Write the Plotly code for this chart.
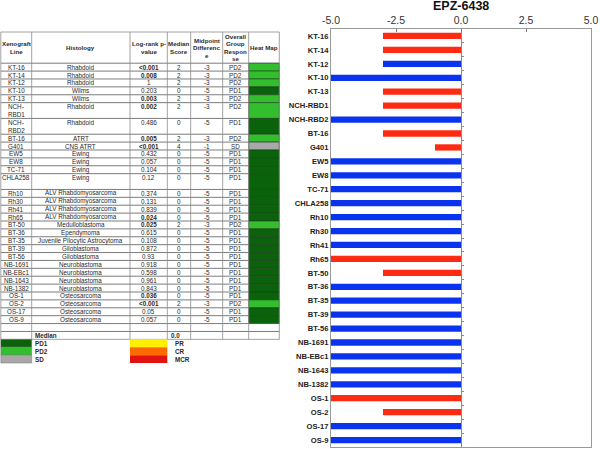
import plotly.graph_objects as go

# ---------------- data ----------------
lines = ["KT-16", "KT-14", "KT-12", "KT-10", "KT-13", "NCH-RBD1", "NCH-RBD2", "BT-16",
         "G401", "EW5", "EW8", "TC-71", "CHLA258", "Rh10", "Rh30", "Rh41", "Rh65",
         "BT-50", "BT-36", "BT-35", "BT-39", "BT-56", "NB-1691", "NB-EBc1", "NB-1643",
         "NB-1382", "OS-1", "OS-2", "OS-17", "OS-9"]
line_cell_text = {"NCH-RBD1": "NCH-\nRBD1", "NCH-RBD2": "NCH-\nRBD2"}
double_rows = ["NCH-RBD1", "NCH-RBD2", "CHLA258"]
histology = ["Rhabdoid", "Rhabdoid", "Rhabdoid", "Wilms", "Wilms", "Rhabdoid", "Rhabdoid",
             "ATRT", "CNS ATRT", "Ewing", "Ewing", "Ewing", "Ewing",
             "ALV Rhabdomyosarcoma", "ALV Rhabdomyosarcoma", "ALV Rhabdomyosarcoma",
             "ALV Rhabdomyosarcoma", "Medulloblastoma", "Ependymoma",
             "Juvenile Pilocytic Astrocytoma", "Glioblastoma", "Glioblastoma",
             "Neuroblastoma", "Neuroblastoma", "Neuroblastoma", "Neuroblastoma",
             "Osteosarcoma", "Osteosarcoma", "Osteosarcoma", "Osteosarcoma"]
pvalues = ["<0.001", "0.008", "1", "0.203", "0.003", "0.002", "0.486", "0.005", "<0.001",
           "0.432", "0.057", "0.104", "0.12", "0.374", "0.131", "0.839", "0.024", "0.025",
           "0.615", "0.108", "0.872", "0.93", "0.918", "0.598", "0.961", "0.843", "0.036",
           "<0.001", "0.05", "0.057"]
median_score = [2, 2, 2, 0, 2, 2, 0, 2, 4, 0, 0, 0, 0, 0, 0, 0, 0, 2, 0, 0, 0, 0, 0, 0,
                0, 0, 0, 2, 0, 0]
midpoint_diff = [-3, -3, -3, -5, -3, -3, -5, -3, -1, -5, -5, -5, -5, -5, -5, -5, -5, -3,
                 -5, -5, -5, -5, -5, -5, -5, -5, -5, -3, -5, -5]
response = ["PD2", "PD2", "PD2", "PD1", "PD2", "PD2", "PD1", "PD2", "SD", "PD1", "PD1",
            "PD1", "PD1", "PD1", "PD1", "PD1", "PD1", "PD2", "PD1", "PD1", "PD1", "PD1",
            "PD1", "PD1", "PD1", "PD1", "PD1", "PD2", "PD1", "PD1"]
headers = ["Xenograft\nLine", "Histology", "Log-rank p-\nvalue", "Median\nScore",
           "Midpoint\nDifferenc\ne", "Overall\nGroup\nRespon\nse", "Heat Map"]
median_label = "Median"
median_value = "0.0"
legend_left = ["PD1", "PD2", "SD"]
legend_right = ["PR", "CR", "MCR"]
x_ticks = [-5.0, -2.5, 0.0, 2.5, 5.0]

# ---------------- styles ----------------
resp_colors = {"PD1": "#0A620A", "PD2": "#33BE2E", "SD": "#A8A8A8",
               "PR": "#FFF000", "CR": "#FF6A00", "MCR": "#E01212"}
RED = "#FF2A12"
BLUE = "#0A33F0"
FONT = "Liberation Sans, Arial, sans-serif"
W, H = 600, 449
TW = 300  # width of the table panel
XD = [331 / W, 591 / W]

def pnum(s):
    return 0.0005 if s.startswith("<") else float(s)

significant = [pnum(p) < 0.05 for p in pvalues]
bar_colors = [RED if s else BLUE for s in significant]
n = len(lines)

fig = go.Figure()

# ---------------- bar chart ----------------
fig.add_trace(go.Bar(
    x=midpoint_diff, y=lines, orientation="h", marker=dict(color=bar_colors, line_width=0),
    width=0.45, xaxis="x", yaxis="y", showlegend=False, hoverinfo="x+y"))

# invisible trace so the zero-line tick axis is drawn
fig.add_trace(go.Scatter(x=[0], y=[0], xaxis="x", yaxis="y3", mode="markers",
                         marker=dict(opacity=0), showlegend=False, hoverinfo="skip"))

# invisible trace for the table axes
fig.add_trace(go.Scatter(x=[0], y=[0], xaxis="x2", yaxis="y2", mode="markers",
                         marker=dict(opacity=0), showlegend=False, hoverinfo="skip"))

# ---------------- table geometry ----------------
col_edges = [0.8, 31.7, 130, 167.3, 190.7, 222.7, 248.7, 279.3]
row_h = 7.89
table_top = 32
header_bottom = 63.2

shapes = []
annotations = []

def txt(x, y, s, bold=False, size=6.3, xanchor="center", color="#2a2a2a"):
    annotations.append(dict(x=x, y=y, xref="x2", yref="y2", text=s, showarrow=False,
                            xanchor=xanchor, yanchor="middle",
                            font=dict(family=FONT, size=size, color=color,
                                      weight="bold" if bold else "normal")))

def hline(y, x0, x1, color="#5a5a5a", w=0.8):
    shapes.append(dict(type="line", xref="x2", yref="y2", x0=x0, x1=x1, y0=y, y1=y,
                       line=dict(color=color, width=w)))

def vline(x, y0, y1, color="#8a8a8a", w=0.8):
    shapes.append(dict(type="line", xref="x2", yref="y2", x0=x, x1=x, y0=y0, y1=y1,
                       line=dict(color=color, width=w)))

def rect(x0, x1, y0, y1, fill, lc=None, lw=0):
    shapes.append(dict(type="rect", xref="x2", yref="y2", x0=x0, x1=x1, y0=y0, y1=y1,
                       fillcolor=fill, line=dict(color=lc or fill, width=lw), layer="above"))

centers = [(col_edges[i] + col_edges[i + 1]) / 2 for i in range(len(col_edges) - 1)]

# header
for i, h in enumerate(headers):
    parts = h.split("\n")
    k_n = len(parts)
    mid = (table_top + header_bottom) / 2
    lh = 7.4
    for k, p in enumerate(parts):
        txt(centers[i], mid + (k - (k_n - 1) / 2) * lh, p, bold=True, size=6.2)

# data rows
y = header_bottom
row_bounds = []
for i, name in enumerate(lines):
    h = row_h * (2 if name in double_rows else 1)
    top, bot = y, y + h
    row_bounds.append((top, bot))
    rect(col_edges[6], col_edges[7], top, bot, resp_colors[response[i]], "#1e3a1e", 0.6)
    first = top + row_h / 2
    cell_line = line_cell_text.get(name, name).split("\n")
    for k, p in enumerate(cell_line):
        txt(centers[0], first + k * row_h, p)
    txt(centers[1], first, histology[i])
    txt(centers[2], first, pvalues[i], bold=significant[i])
    txt(centers[3], first, str(median_score[i]))
    txt(centers[4], first, str(midpoint_diff[i]))
    txt(centers[5], first, response[i])
    y = bot

blank_bottom = y + row_h
median_bottom = blank_bottom + row_h

# horizontal lines
hline(table_top, col_edges[0], col_edges[7], "#8a8a8a")
hline(header_bottom, col_edges[0], col_edges[7], "#5a5a5a")
for top, bot in row_bounds:
    hline(bot, col_edges[0], col_edges[6], "#5a5a5a")
hline(blank_bottom, col_edges[0], col_edges[7], "#5a5a5a")
hline(median_bottom, col_edges[0], col_edges[7], "#8a8a8a")
# vertical lines
for xe in col_edges:
    vline(xe, table_top, median_bottom)

# median row
txt(col_edges[1] + 1.5, (blank_bottom + median_bottom) / 2, median_label, bold=True,
    xanchor="left")
txt(col_edges[3] + 1.5, (blank_bottom + median_bottom) / 2, median_value, bold=True,
    xanchor="left")

# legend
for k, lab in enumerate(legend_left):
    t = median_bottom + k * row_h
    rect(col_edges[0], col_edges[1], t, t + row_h, resp_colors[lab], "#777777", 0.5)
    txt(col_edges[1] + 1.5, t + row_h / 2, lab, bold=True, xanchor="left")
for k, lab in enumerate(legend_right):
    t = median_bottom + k * row_h
    rect(col_edges[2], col_edges[3], t, t + row_h, resp_colors[lab])
    txt(col_edges[3] + 6, t + row_h / 2, lab, bold=True, xanchor="left")

# title
annotations.append(dict(x=0.5, y=(H - 6.5) / H, xref="x domain", yref="paper",
                        yanchor="middle", text="EPZ-6438", showarrow=False,
                        font=dict(family=FONT, size=12.5, color="#111", weight="bold")))

YD = [(H - 447) / H, (H - 29) / H]
zero_pos = XD[0] + (XD[1] - XD[0]) * 0.5

fig.update_layout(
    width=W, height=H, margin=dict(l=0, r=0, t=0, b=0, autoexpand=False),
    paper_bgcolor="white", plot_bgcolor="rgba(0,0,0,0)",
    shapes=shapes, annotations=annotations, bargap=0.5,
    xaxis=dict(domain=XD, range=[-5, 5], side="top",
               tickvals=x_ticks, ticktext=[f"{v:.1f}" for v in x_ticks],
               tickfont=dict(family=FONT, size=10.5, color="#333"),
               ticks="inside", ticklen=3, tickcolor="#777", showgrid=False,
               zeroline=True, zerolinecolor="#8a8a8a", zerolinewidth=1,
               showline=True, linecolor="#9a9a9a", linewidth=1, mirror=True,
               anchor="y", fixedrange=True, automargin=False),
    yaxis=dict(domain=YD, autorange="reversed",
               categoryorder="array", categoryarray=lines,
               tickfont=dict(family=FONT, size=7.6, color="#222", weight="bold"),
               showline=True, linecolor="#9a9a9a", linewidth=1, mirror=True,
               showgrid=False, ticks="", anchor="x", fixedrange=True, automargin=False),
    yaxis3=dict(overlaying="y", anchor="free", position=zero_pos, side="right",
                range=[n - 0.5, -0.5], tickvals=[i + 0.5 for i in range(n - 1)],
                ticks="outside", ticklen=2, tickcolor="#8a8a8a", tickwidth=1,
                showticklabels=False, showline=False, showgrid=False,
                zeroline=False, fixedrange=True, automargin=False),
    xaxis2=dict(domain=[0, TW / W], range=[0, TW], visible=False, anchor="y2",
                fixedrange=True, automargin=False),
    yaxis2=dict(domain=[0, 1], range=[H, 0], visible=False, anchor="x2",
                fixedrange=True, automargin=False),
)

fig.write_html(
    "out.html",
    config={"displayModeBar": False},
    post_script="document.documentElement.style.margin='0';"
                "document.body.style.margin='0';document.body.style.padding='0';"
                "document.body.style.overflow='hidden';",
)
